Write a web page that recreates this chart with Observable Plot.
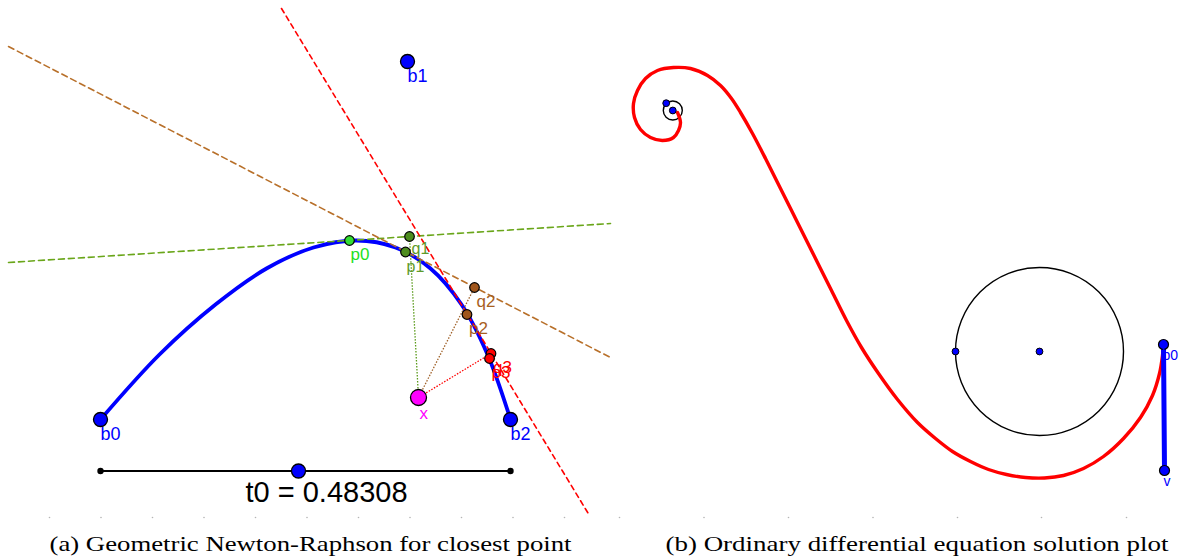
<!DOCTYPE html>
<html>
<head>
<meta charset="utf-8">
<script src="https://cdn.jsdelivr.net/npm/d3@7"></script>
<script src="https://cdn.jsdelivr.net/npm/@observablehq/plot@0.6"></script>
<style>
  html, body { margin: 0; padding: 0; background: #fff; }
  #chart { width: 1182px; height: 559px; overflow: hidden; }
</style>
</head>
<body>
<div id="chart"></div>
<script>
// ---------- Panel (a): geometric Newton-Raphson ----------
const bezierCurve = [[100,419],[159,354],[215,304],[266,268],[313,247],[356,240],[395,247],[430,268],[461,304],[487,354],[510,419]];
const ctrlPts = [{name:"b0",x:100,y:419},{name:"b1",x:407,y:61},{name:"b2",x:510,y:419}];
const greenPts = [{name:"p0",x:349,y:240}];
const q1Pt = [{name:"q1",x:409,y:236}];
const p1Pt = [{name:"p1",x:405,y:251.5}];
const brownPts = [{name:"q2",x:474,y:287},{name:"p2",x:466.5,y:314}];
const redPts = [{name:"q3",x:490.5,y:353},{name:"p3",x:489,y:358}];
const target = [{name:"x",x:418,y:397}];
const tangentGreen = [[8,262],[610,223]];
const tangentBrown = [[8,46],[610,357]];
const tangentRed = [[281,8],[589,515]];
const sliderEnds = [[100,470.5],[510,470.5]];
const sliderKnob = [[298,470.5]];
const t0 = 0.48308;
const t0Label = [{text:"t0 = " + t0, x:326, y:501}];
const leftTicks = [49,100.5,152,203.5,255,306.5,358,409.5,461,512.5,564];

// ---------- Panel (b): ODE solution plot ----------
const spiral = [[677,112],[680,122],[678,130],[673,137],[662,140],[650,137],[640,129],[634,117],[633,103],[637,90],[645,78],[657,70],[673,67],[690,68],[707,75],[720,85],[731,98],[740,112],[752,133],[765,158],[780,188],[797,222],[814,256],[831,290],[846,320],[861,347],[878,373],[897,399],[917,422],[935,438],[952,451],[970,461],[988,469],[1006,474],[1025,477],[1044,477.5],[1063,475],[1083,468],[1103,456],[1123,438],[1140,417],[1152,395],[1159,373],[1162,355],[1163,344]];
const circles = [{x:672.3,y:110,r:9.5},{x:1039,y:351,r:84}];
const circlePts = [[665.7,102.7],[672.3,110],[955,351],[1039,351]];
const vectorPts = [{name:"b0",x:1163,y:344},{name:"v",x:1164,y:470}];
const rightTicks = [619,703.5,788,872.5,957,1041,1126];

const captions = [
  {text:"(a) Geometric Newton-Raphson for closest point", x:49, len:522},
  {text:"(b) Ordinary differential equation solution plot", x:665, len:503}
];

const sans = "Liberation Sans, Arial, sans-serif";
const ptLabel = (data, fill, size, dx, dy) => Plot.text(data, {x:"x", y:"y", text:"name", fill, fontSize:size, textAnchor:"start", lineAnchor:"bottom", dx, dy, fontFamily:sans});

const chart = Plot.plot({
  width: 1182,
  height: 559,
  margin: 0,
  x: {domain: [0,1182], range: [0,1182], axis: null},
  y: {domain: [0,559], range: [0,559], axis: null},
  r: {type: "identity"},
  style: {background: "#fff", fontFamily: sans},
  marks: [
    // tick dots
    Plot.dot(leftTicks, {x: d => d, y: () => 517, r: 0.8, fill: "#b5b5b5"}),
    Plot.dot(rightTicks, {x: d => d, y: () => 517, r: 0.8, fill: "#b5b5b5"}),
    // bezier curve
    Plot.line(bezierCurve, {x: d => d[0], y: d => d[1], curve: "catmull-rom", stroke: "#0000ff", strokeWidth: 3.8}),
    // tangents
    Plot.line(tangentGreen, {x: d => d[0], y: d => d[1], stroke: "#6aa61a", strokeWidth: 1.6, strokeDasharray: "6,4"}),
    Plot.line(tangentBrown, {x: d => d[0], y: d => d[1], stroke: "#b8702a", strokeWidth: 1.6, strokeDasharray: "6,4"}),
    Plot.line(tangentRed, {x: d => d[0], y: d => d[1], stroke: "#ff0000", strokeWidth: 1.6, strokeDasharray: "5,4"}),
    // dotted links to target
    Plot.link([0], {x1: () => target[0].x, y1: () => target[0].y, x2: () => q1Pt[0].x, y2: () => q1Pt[0].y, stroke: "#5a9a1a", strokeWidth: 1.3, strokeDasharray: "1.5,1.5"}),
    Plot.link([0], {x1: () => target[0].x, y1: () => target[0].y, x2: () => brownPts[0].x, y2: () => brownPts[0].y, stroke: "#a0622a", strokeWidth: 1.3, strokeDasharray: "1.5,1.5"}),
    Plot.link([0], {x1: () => target[0].x, y1: () => target[0].y, x2: () => redPts[0].x, y2: () => redPts[0].y, stroke: "#ff0000", strokeWidth: 1.3, strokeDasharray: "1.5,1.5"}),
    // slider
    Plot.line(sliderEnds, {x: d => d[0], y: d => d[1], stroke: "#000", strokeWidth: 2}),
    Plot.dot(sliderEnds, {x: d => d[0], y: d => d[1], r: 3.2, fill: "#000"}),
    Plot.dot(sliderKnob, {x: d => d[0], y: d => d[1], r: 7, fill: "#0000ff", stroke: "#000", strokeWidth: 1.3}),
    Plot.text(t0Label, {x: "x", y: "y", text: "text", fontSize: 29, fill: "#000", textAnchor: "middle", lineAnchor: "bottom", fontFamily: sans}),
    // points
    Plot.dot(ctrlPts, {x: "x", y: "y", r: 7, fill: "#0000ff", stroke: "#000", strokeWidth: 1.3}),
    Plot.dot(greenPts, {x: "x", y: "y", r: 4.8, fill: "#33dd33", stroke: "#000", strokeWidth: 1.2}),
    Plot.dot(q1Pt, {x: "x", y: "y", r: 4.8, fill: "#4d8c1f", stroke: "#000", strokeWidth: 1.2}),
    Plot.dot(p1Pt, {x: "x", y: "y", r: 4.8, fill: "#4d8c1f", stroke: "#000", strokeWidth: 1.2}),
    Plot.dot(brownPts, {x: "x", y: "y", r: 4.8, fill: "#a0561c", stroke: "#000", strokeWidth: 1.2}),
    Plot.dot(redPts, {x: "x", y: "y", r: 4.8, fill: "#ff0000", stroke: "#000", strokeWidth: 1.2}),
    Plot.dot(target, {x: "x", y: "y", r: 8, fill: "#ff00ff", stroke: "#000", strokeWidth: 1.3}),
    // labels
    ptLabel(ctrlPts, "#0000ff", 18, 0, 20),
    ptLabel(greenPts, "#22e022", 17, 1, 19),
    ptLabel(q1Pt, "#5e9a2a", 16, 2, 17),
    ptLabel(p1Pt, "#5e9a2a", 16, 1, 20),
    ptLabel(brownPts, "#a8601e", 17, 2, 19),
    ptLabel(redPts, "#ff0000", 17, 2, 19),
    ptLabel(target, "#ff00ff", 17, 1, 21),

    // ---- right panel ----
    Plot.dot(circles, {x: "x", y: "y", r: "r", fill: "none", stroke: "#000", strokeWidth: 1.4}),
    Plot.line(spiral, {x: d => d[0], y: d => d[1], curve: "catmull-rom", stroke: "#ff0000", strokeWidth: 3.4}),
    Plot.dot(circlePts, {x: d => d[0], y: d => d[1], r: 3.4, fill: "#0000ff", stroke: "#000", strokeWidth: 1}),
    Plot.line(vectorPts, {x: "x", y: "y", stroke: "#0000ff", strokeWidth: 5}),
    Plot.dot(vectorPts, {x: "x", y: "y", r: 5, fill: "#0000ff", stroke: "#000", strokeWidth: 1.2}),
    ptLabel(vectorPts, "#0000ff", 14, -1, 15),

    // captions
    Plot.text(captions, {x: "x", y: () => 550, text: "text", fontSize: 21, fill: "#000", textAnchor: "start", lineAnchor: "bottom", fontFamily: "Liberation Serif, DejaVu Serif, serif", className: "caption"})
  ]
});

document.getElementById("chart").appendChild(chart);
// fit caption widths to the reference
d3.select(chart).selectAll(".caption text").each(function(d, i) {
  const len = captions[i] ? captions[i].len : null;
  if (len) { this.setAttribute("textLength", len); this.setAttribute("lengthAdjust", "spacingAndGlyphs"); }
});
</script>
</body>
</html>
